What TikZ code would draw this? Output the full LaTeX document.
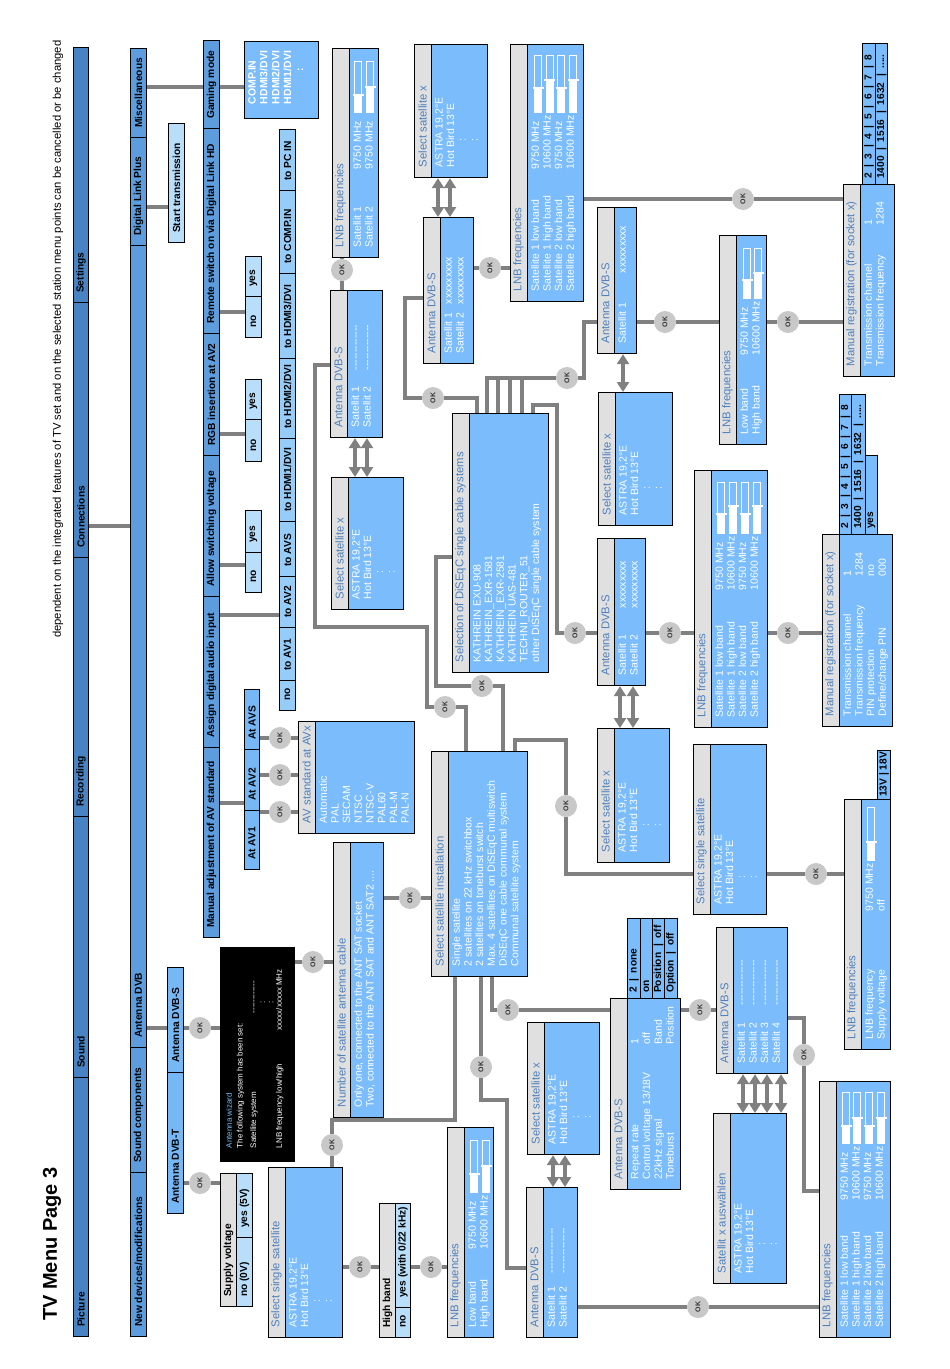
\documentclass[tikz,border=0pt]{standalone}
\usepackage{fontspec}
\setmainfont{Liberation Sans}
\usetikzlibrary{arrows.meta}

\definecolor{colDark}{RGB}{72,131,196}
\definecolor{colMid}{RGB}{93,157,222}
\definecolor{colLight}{RGB}{118,184,246}
\definecolor{colTo}{RGB}{150,204,248}
\definecolor{colPale}{RGB}{184,222,250}
\definecolor{colScr}{RGB}{122,188,252}
\definecolor{colStrip}{RGB}{224,224,224}
\definecolor{colHead}{RGB}{76,128,190}
\definecolor{colLink}{RGB}{128,128,128}
\definecolor{colOK}{RGB}{200,200,200}

% menu cell: [pad]{name}{x1}{y1}{x2}{y2}{style}{label}
\newcommand{\mcell}[8][10]{%
  \node[#7, minimum width={(#5-#3)*1pt}, minimum height={(#6-#4)*1pt},
        anchor=north west] (#2) at (#3,#4) {};
  \node[celltxt, anchor=west] (#2-txt) at ([yshift=#1pt]#2.south) {#8};}
% screen box: {name}{x1}{y1}{x2}{y2}{title}{body}
\newcommand{\scrbox}[7]{%
  \node[scr, minimum width={(#4-#2)*1pt}, minimum height={(#5-#3)*1pt},
        anchor=north west] (#1) at (#2,#3) {};
  \node[scrstrip, minimum width=17pt, minimum height={(#5-#3)*1pt},
        anchor=north west] (#1-strip) at (#2,#3) {};
  \node[headtxt, anchor=west] (#1-head) at ([xshift=8.5pt,yshift=11pt]#1.south west) {#6};
  \node[bodytxt, anchor=north west] (#1-body) at ([xshift=21pt,yshift=11pt]#1.south west) {#7};}
% level slider: {x}{ytop}{ybottom}{ylevel}
\newcommand{\lnbslider}[4]{%
  \draw[white, line width=0.7pt] ({#1-3.5},#2) rectangle ({#1+3.5},#3);
  \fill[white] ({#1-3.5},#4) rectangle ({#1+3.5},#3);
  \draw[white, line width=1.2pt] ({#1-5.5},#4) -- ({#1+5.5},#4);}
\newcommand{\kvline}[3]{\makebox[#1pt][l]{#2}#3}
\newcommand{\barsep}{\hspace{0.55em}|\hspace{0.55em}}
\newcommand{\dashrow}{-{}-{}-{}-{}-{}-{}-{}-{}-{}-{}-{}-{}-}

\begin{document}
\begin{tikzpicture}[
    x=1pt, y=-1pt,
    link/.style={draw=colLink, line width=4pt},
    dbl/.style={draw=colLink, line width=4pt,
                {Triangle[width=12pt,length=10pt]}-{Triangle[width=12pt,length=10pt]}},
    ok/.style={circle, fill=colOK, minimum size=22pt, inner sep=0pt, rotate=90,
               text=black!80, font=\fontsize{7}{7}\selectfont\bfseries},
    mbar1/.style={draw=black, line width=1pt, fill=colDark, inner sep=0pt},
    mbar2/.style={draw=black, line width=1pt, fill=colMid, inner sep=0pt},
    optlight/.style={draw=black, line width=1pt, fill=colLight, inner sep=0pt},
    optto/.style={draw=black, line width=1pt, fill=colTo, inner sep=0pt},
    optpale/.style={draw=black, line width=1pt, fill=colPale, inner sep=0pt},
    opthead/.style={draw=black, line width=1pt, fill=colStrip, inner sep=0pt},
    optscr/.style={draw=black, line width=1pt, fill=colScr, inner sep=0pt},
    celltxt/.style={rotate=90, inner sep=0pt, font=\fontsize{10.2}{12}\selectfont\bfseries},
    scr/.style={draw=black, line width=1.2pt, fill=colScr, inner sep=0pt},
    scrstrip/.style={draw=black, line width=1.2pt, fill=colStrip, inner sep=0pt},
    headtxt/.style={rotate=90, inner sep=0pt, text=colHead, font=\fontsize{11.3}{12}\selectfont},
    bodytxt/.style={rotate=90, inner sep=0pt, align=left, text=white,
                    font=\fontsize{10.5}{11.7}\selectfont},
    wizbox/.style={fill=black, inner sep=0pt},
    wiztxt/.style={rotate=90, inner sep=0pt, align=left, text=white,
                   font=\fontsize{8}{8.6}\selectfont},
    pagetitle/.style={rotate=90, inner sep=0pt, font=\fontsize{20}{24}\selectfont\bfseries},
    note/.style={rotate=90, inner sep=0pt, font=\fontsize{11.25}{13}\selectfont},
  ]
  \path[fill=white] (0,0) rectangle (950,1369);
  \useasboundingbox (0,0) rectangle (950,1369);

  % Heading
  \node[pagetitle, anchor=west] (title) at (52,1321) {TV Menu Page 3};
  \node[note, anchor=west] (remark) at (58,638)
    {dependent on the integrated features of TV set and on the selected station menu points can be cancelled or be changed};

  % Main menu bar
  \mcell{picture}{73}{1077}{88}{1336}{mbar1}{Picture}
  \mcell{sound}{73}{816}{88}{1077}{mbar1}{Sound}
  \mcell{recording}{73}{557}{88}{816}{mbar1}{Recording}
  \mcell{connections}{73}{302}{88}{557}{mbar1}{Connections}
  \mcell{settings}{73}{47}{88}{302}{mbar1}{Settings}

  % Settings bar
  \mcell{newdev}{130}{1172}{146}{1336}{mbar2}{New devices/modifications}
  \mcell{soundcomp}{130}{1047}{146}{1172}{mbar2}{Sound components}
  \mcell{antdvb}{130}{245}{146}{1047}{mbar2}{Antenna DVB}
  \mcell{dlplus}{130}{137}{146}{245}{mbar2}{Digital Link Plus}
  \mcell{misc}{130}{48}{146}{137}{mbar2}{Miscellaneous}

  % Connections bar
  \mcell{gaming}{203}{40}{219}{128}{mbar2}{Gaming mode}
  \mcell{remote}{203}{128}{219}{333}{mbar2}{Remote switch on via Digital Link HD}
  \mcell{rgb}{203}{333}{219}{455}{mbar2}{RGB insertion at AV2}
  \mcell{allowsw}{203}{455}{219}{596}{mbar2}{Allow switching voltage}
  \mcell{assign}{203}{596}{219}{747}{mbar2}{Assign digital audio input}
  \mcell{manadj}{203}{747}{219}{937}{mbar2}{Manual adjustment of AV standard}

  % Option cells
  \mcell{starttx}{168}{123}{184}{242}{optpale}{Start transmission}
  \mcell{dvbs}{167}{967}{183}{1072}{optlight}{Antenna DVB-S}
  \mcell{dvbt}{167}{1072}{183}{1213}{optlight}{Antenna DVB-T}
  \mcell{rsno}{245}{296}{261}{337}{optpale}{no}
  \mcell{rsyes}{245}{256}{261}{296}{optpale}{yes}
  \mcell{rgbno}{245}{419}{261}{461}{optpale}{no}
  \mcell{rgbyes}{245}{379}{261}{419}{optpale}{yes}
  \mcell{swno}{245}{552}{261}{592}{optpale}{no}
  \mcell{swyes}{245}{510}{261}{552}{optpale}{yes}
  \mcell{tono}{279}{680}{295}{710}{optto}{no}
  \mcell{toav1}{279}{627}{295}{680}{optto}{to AV1}
  \mcell{toav2}{279}{576}{295}{627}{optto}{to AV2}
  \mcell{toavs}{279}{521}{295}{576}{optto}{to AVS}
  \mcell{tohdmi1}{279}{438}{295}{521}{optto}{to HDMI1/DVI}
  \mcell{tohdmi2}{279}{358}{295}{438}{optto}{to HDMI2/DVI}
  \mcell{tohdmi3}{279}{273}{295}{358}{optto}{to HDMI3/DVI}
  \mcell{tocomp}{279}{190}{295}{273}{optto}{to COMP.IN}
  \mcell{topc}{279}{129}{295}{190}{optto}{to PC IN}
  \mcell{atavs}{244}{689}{259}{749}{optlight}{At AVS}
  \mcell{atav2}{244}{749}{259}{810}{optlight}{At AV2}
  \mcell{atav1}{244}{810}{259}{869}{optlight}{At AV1}
  \mcell{supply}{220}{1173}{236}{1306}{opthead}{Supply voltage}
  \mcell{supno}{236}{1237}{252}{1306}{optpale}{no (0V)}
  \mcell{supyes}{236}{1173}{252}{1237}{optpale}{yes (5V)}
  \mcell{hband}{379}{1203}{395}{1337}{opthead}{High band}
  \mcell{hbno}{395}{1307}{410}{1337}{optpale}{no}
  \mcell{hbyes}{395}{1203}{410}{1307}{optpale}{yes (with 0/22 kHz)}
  \mcell[6]{rptA}{627}{918}{640}{998}{optscr}{2\barsep none}
  \mcell[6]{rptB}{640}{918}{652}{998}{optscr}{on}
  \mcell[6]{rptC}{652}{918}{664}{998}{optscr}{Position\barsep off}
  \mcell[6]{rptD}{664}{918}{677}{998}{optscr}{Option\barsep off}
  \mcell[6]{mraA}{862}{43}{875}{184}{optscr}{2\barsep 3\barsep 4\barsep 5\barsep 6\barsep 7\barsep 8}
  \mcell[6]{mraB}{875}{43}{887}{184}{optscr}{1400\barsep 1516\barsep 1632\barsep .....}
  \mcell[6]{mrbA}{839}{394}{851}{534}{optscr}{2\barsep 3\barsep 4\barsep 5\barsep 6\barsep 7\barsep 8}
  \mcell[6]{mrbB}{851}{394}{865}{534}{optscr}{1400\barsep 1516\barsep 1632\barsep .....}
  \mcell[6]{mrbC}{865}{455}{877}{534}{optscr}{yes}
  \mcell[3]{lnbEv}{877}{750}{890}{799}{optscr}{13V | 18V}

  % Gaming mode list
  \node[scr, minimum width=74pt, minimum height=77pt, anchor=north west] (comp) at (244,41) {};
  \node[bodytxt, font=\fontsize{10.5}{11.9}\selectfont\bfseries, anchor=north west] (comp-body)
    at ([xshift=4pt,yshift=15pt]comp.south west)
    {COMP.IN\\HDMI3/DVI\\HDMI2/DVI\\HDMI1/DVI\\\hspace*{33pt}:};

  % Antenna wizard
  \node[wizbox, minimum width=75pt, minimum height=215pt, anchor=north west] (wiz) at (220,947) {};
  \node[wiztxt, anchor=north west] (wiz-body) at ([xshift=6pt,yshift=14pt]wiz.south west)
    {{\color{colScr}Antenna wizard}\\[2pt]
     The following system has been set:\\[5pt]
     \makebox[135pt][l]{Satellite system}-{}-{}-{}-{}-{}-{}-{}-{}-{}-{}-{}-\\
     \hspace*{145pt}:\\
     \hspace*{145pt}:\\
     \makebox[118pt][l]{LNB frequency low/high}xxxxx/xxxxx MHz};

  % Screens
  \scrbox{lnbA}{332}{48}{378}{257}{LNB frequencies}
    {\kvline{78}{Satellit 1}{9750 MHz}\\\kvline{78}{Satellit 2}{9750 MHz}}
  \scrbox{antS1}{330}{290}{382}{437}{Antenna DVB-S}
    {\kvline{57}{Satellit 1}{\dashrow}\\\kvline{57}{Satellit 2}{\dashrow}}
  \scrbox{selA}{331}{477}{403}{609}{Select satellite x}
    {ASTRA 19,2°E\\Hot Bird 13°E\\\hspace*{26pt}:\\\hspace*{26pt}:}
  \scrbox{selB}{414}{44}{487}{177}{Select satellite x}
    {ASTRA 19,2°E\\Hot Bird 13°E\\\hspace*{26pt}:\\\hspace*{26pt}:}
  \scrbox{antS2}{423}{217}{473}{363}{Antenna DVB-S}
    {\kvline{49}{Satellit 1}{xxxxxxxxx}\\\kvline{49}{Satellit 2}{xxxxxxxxx}}
  \scrbox{lnbB}{510}{44}{583}{301}{LNB frequencies}
    {\kvline{122}{Satellite 1 low band}{9750 MHz}\\\kvline{122}{Satellite 1 high band}{10600 MHz}\\
     \kvline{122}{Satellite 2 low band}{9750 MHz}\\\kvline{122}{Satellite 2 high band}{10600 MHz}}
  \scrbox{dsq}{452}{413}{548}{672}{Selection of DiSEqC single cable systems}
    {KATHREIN EXU-908\\KATHREIN\_EXR-1581\\KATHREIN\_EXR-2581\\KATHREIN UAS-481\\
     TECHNI\_ROUTER\_51\\other DiSEqC single cable system}
  \scrbox{antS3}{597}{207}{636}{353}{Antenna DVB-S}
    {\kvline{70}{Satellit 1}{xxxxxxxxx}}
  \scrbox{selC}{598}{392}{672}{525}{Select satellite x}
    {ASTRA 19,2°E\\Hot Bird 13°E\\\hspace*{26pt}:\\\hspace*{26pt}:}
  \scrbox{lnbC}{719}{235}{766}{444}{LNB frequencies}
    {\kvline{79}{Low band}{9750 MHz}\\\kvline{79}{High band}{10600 MHz}}
  \scrbox{mrA}{843}{184}{894}{376}{Manual registration (for socket x)}
    {\kvline{141}{Transmission channel}{1}\\\kvline{141}{Transmission frequency}{1284}}
  \scrbox{antS4}{597}{538}{645}{685}{Antenna DVB-S}
    {\kvline{67}{Satellit 1}{xxxxxxxxx}\\\kvline{67}{Satellit 2}{xxxxxxxxx}}
  \scrbox{selD}{597}{728}{669}{862}{Select satellite x}
    {ASTRA 19,2°E\\Hot Bird 13°E\\\hspace*{26pt}:\\\hspace*{26pt}:}
  \scrbox{lnbD}{694}{470}{767}{727}{LNB frequencies}
    {\kvline{127}{Satellite 1 low band}{9750 MHz}\\\kvline{127}{Satellite 1 high band}{10600 MHz}\\
     \kvline{127}{Satellite 2 low band}{9750 MHz}\\\kvline{127}{Satellite 2 high band}{10600 MHz}}
  \scrbox{mrB}{822}{534}{892}{726}{Manual registration (for socket x)}
    {\kvline{140}{Transmission channel}{1}\\\kvline{140}{Transmission frequency}{1284}\\
     \kvline{140}{PIN protection}{no}\\\kvline{140}{Define/change PIN}{000}}
  \scrbox{ssR}{693}{744}{766}{914}{Select single satellite}
    {ASTRA 19,2°E\\Hot Bird 13°E\\\hspace*{26pt}:\\\hspace*{26pt}:}
  \scrbox{lnbE}{844}{799}{890}{1049}{LNB frequencies}
    {\kvline{128}{LNB frequency}{9750 MHz}\\\kvline{128}{Supply voltage}{off}}
  \scrbox{nsc}{333}{842}{383}{1117}{Number of satellite antenna cable}
    {Only one, connected to the ANT SAT socket\\Two, connected to the ANT SAT and ANT SAT2 ....}
  \scrbox{ssi}{431}{751}{527}{976}{Select satellite installation}
    {Single satellite\\2 satellites on 22 kHz switchbox\\2 satellites on toneburst switch\\
     Max. 4 satellites on DiSEqC multiswitch\\DiSEqC one cable communal system\\Communal satellite system}
  \scrbox{ssL}{268}{1167}{342}{1337}{Select single satellite}
    {ASTRA 19,2°E\\Hot Bird 13°E\\\hspace*{25pt}:\\\hspace*{25pt}:}
  \scrbox{lnbF}{447}{1127}{493}{1337}{LNB frequencies}
    {\kvline{78}{Low band}{9750 MHz}\\\kvline{78}{High band}{10600 MHz}}
  \scrbox{selE}{527}{1022}{599}{1154}{Select satellite x}
    {ASTRA 19,2°E\\Hot Bird 13°E\\\hspace*{26pt}:\\\hspace*{26pt}:}
  \scrbox{antS5}{526}{1187}{577}{1337}{Antenna DVB-S}
    {\kvline{54}{Satellit 1}{\dashrow}\\\kvline{54}{Satellit 2}{\dashrow}}
  \scrbox{rpt}{610}{998}{680}{1189}{Antenna DVB-S}
    {\kvline{135}{Repeat rate}{1}\\\kvline{135}{Control voltage 13/18V}{off}\\
     \kvline{135}{22kHz signal}{Band}\\\kvline{135}{Toneburst}{Position}}
  \scrbox{antS6}{716}{927}{787}{1073}{Antenna DVB-S}
    {\kvline{58}{Satellit 1}{\dashrow}\\\kvline{58}{Satellit 2}{\dashrow}\\
     \kvline{58}{Satellit 3}{\dashrow}\\\kvline{58}{Satellit 4}{\dashrow}}
  \scrbox{satxA}{713}{1113}{786}{1283}{Satellit x auswählen}
    {ASTRA 19,2°E\\Hot Bird 13°E\\\hspace*{28pt}:\\\hspace*{28pt}:}
  \scrbox{lnbG}{819}{1081}{890}{1337}{LNB frequencies}
    {\kvline{127}{Satellite 1 low band}{9750 MHz}\\\kvline{127}{Satellite 1 high band}{10600 MHz}\\
     \kvline{127}{Satellite 2 low band}{9750 MHz}\\\kvline{127}{Satellite 2 high band}{10600 MHz}}
  \scrbox{avstd}{298}{721}{414}{833}{AV standard at AVx}
    {Automatic\\PAL\\SECAM\\NTSC\\NTSC-V\\PAL60\\PAL-M\\PAL-N}

  % Level sliders
  \lnbslider{358}{61}{112}{95}
  \lnbslider{370}{61}{112}{87}
  \lnbslider{538}{55}{112}{88}
  \lnbslider{549.5}{55}{112}{80}
  \lnbslider{561}{55}{112}{88}
  \lnbslider{573}{55}{112}{80}
  \lnbslider{747}{248}{298}{280}
  \lnbslider{758}{248}{298}{273}
  \lnbslider{721}{482}{533}{514}
  \lnbslider{733}{482}{533}{506}
  \lnbslider{745}{482}{533}{514}
  \lnbslider{757}{482}{533}{506}
  \lnbslider{871}{807}{860}{842}
  \lnbslider{474}{1140}{1192}{1174}
  \lnbslider{486}{1140}{1192}{1166}
  \lnbslider{846}{1092}{1143}{1126}
  \lnbslider{857}{1092}{1143}{1118}
  \lnbslider{869}{1092}{1143}{1126}
  \lnbslider{881}{1092}{1143}{1118}

  % OK keys
  \node[ok] (ok1) at (200,1183) {OK};
  \node[ok] (ok2) at (200,1028) {OK};
  \node[ok] (ok3) at (313,962) {OK};
  \node[ok] (ok4) at (410,898) {OK};
  \node[ok] (ok5) at (332,1145) {OK};
  \node[ok] (ok6) at (360,1267) {OK};
  \node[ok] (ok7) at (431,1267) {OK};
  \node[ok] (ok8) at (481,1067) {OK};
  \node[ok] (ok9) at (508,1010) {OK};
  \node[ok] (ok10) at (700,1010) {OK};
  \node[ok] (ok11) at (804,1055) {OK};
  \node[ok] (ok12) at (698,1307) {OK};
  \node[ok] (ok13) at (566,806) {OK};
  \node[ok] (ok14) at (816,874) {OK};
  \node[ok] (ok15) at (445,707) {OK};
  \node[ok] (ok16) at (482,686) {OK};
  \node[ok] (ok17) at (575,633) {OK};
  \node[ok] (ok18) at (670,633) {OK};
  \node[ok] (ok19) at (788,633) {OK};
  \node[ok] (ok20) at (567,378) {OK};
  \node[ok] (ok21) at (665,322) {OK};
  \node[ok] (ok22) at (788,322) {OK};
  \node[ok] (ok23) at (433,398) {OK};
  \node[ok] (ok24) at (490,268) {OK};
  \node[ok] (ok25) at (743,199) {OK};
  \node[ok] (ok26) at (342,270) {OK};
  \node[ok] (okA) at (280,738) {OK};
  \node[ok] (okB) at (280,775) {OK};
  \node[ok] (okC) at (280,812) {OK};

  % Menu links
  \draw[link] (connections.east |- 0,526) -- (antdvb.west |- 0,526);
  \draw[link] (misc.east |- 0,87) -- (gaming.west |- 0,87);
  \draw[link] (gaming.east |- 0,87) -- (comp.west |- 0,87);
  \draw[link] (dlplus.east |- 0,207) -- (starttx.west |- 0,207);
  \draw[link] (antdvb.east |- 0,1028) -- (dvbs.west |- 0,1028);
  \draw[link] (remote.east |- 0,312) -- (rsno.west |- 0,312);
  \draw[link] (rgb.east |- 0,434) -- (rgbno.west |- 0,434);
  \draw[link] (allowsw.east |- 0,565) -- (swno.west |- 0,565);
  \draw[link] (assign.east |- 0,615) -- (toav2.west |- 0,615);
  \draw[link] (manadj.east |- 0,803) -- (atav2.west |- 0,803);
  \foreach \src/\okn in {atavs/okA,atav2/okB,atav1/okC}
    \draw[link] (\src.east |- \okn) -- (\okn) -- (\okn -| avstd.west);

  % Antenna wizard path
  \draw[link] (dvbt.east |- ok1) -- (ok1) -- (ok1 -| supply.west);
  \draw[link] (dvbs.east |- ok2) -- (ok2) -- (ok2 -| wiz.west);
  \draw[link] (wiz.east |- ok3) -- (ok3) -- (ok3 -| nsc.west);
  \draw[link] (nsc.east |- ok4) -- (ok4) -- (ok4 -| ssi.west);

  % Single satellite
  \draw[link] (ssi.south -| 455,0) -- (455,1120) -- (ok5 |- 0,1120) -- (ok5) -- (ok5 |- ssL.north);
  \draw[link] (ssL.east |- ok6) -- (ok6) -- (ok6 -| hband.west);
  \draw[link] (hbyes.east |- ok7) -- (ok7) -- (ok7 -| lnbF.west);

  % 22 kHz switchbox
  \draw[link] (ssi.south -| ok8) -- (ok8) -- (ok8 |- 0,1100) -- (507,1100) -- (507,1268)
    -- (antS5.west |- 0,1268);
  \draw[link] (antS5.east |- ok12) -- (ok12) -- (ok12 -| lnbG.west);

  % toneburst / multiswitch
  \draw[link] (ssi.south -| 492,0) -- (492,1010) -- (ok9) -- (ok9 -| rpt.west);
  \draw[link] (rpt.east |- ok10) -- (ok10) -- (ok10 -| antS6.west);
  \draw[link] (antS6.east |- 0,1018) -- (ok11 |- 0,1018) -- (ok11) -- (ok11 |- 0,1191)
    -- (lnbG.west |- 0,1191);

  % communal system
  \draw[link] (ssi.north -| 515,0) -- (515,740) -- (ok13 |- 0,740) -- (ok13) -- (ok13 |- 0,874)
    -- (ssR.west |- 0,874);
  \draw[link] (ssR.east |- ok14) -- (ok14) -- (ok14 -| lnbE.west);

  % one cable system
  \draw[link] (ssi.north -| 466,0) -- (466,707) -- (ok15) -- (427,707) -- (427,627) -- (315,627)
    -- (315,365) -- (antS1.west |- 0,365);
  \draw[link] (lnbA.south -| ok26) -- (ok26) -- (ok26 |- antS1.north);
  \draw[link] (ssi.north -| 503,0) -- (503,686) -- (ok16) -- (436,686) -- (436,557)
    -- (dsq.west |- 0,557);
  \draw[link] (dsq.north -| 533,0) -- (533,405) -- (557,405) -- (557,633) -- (ok17)
    -- (ok17 -| antS4.west);
  \draw[link] (antS4.east |- ok18) -- (ok18) -- (ok18 -| lnbD.west);
  \draw[link] (lnbD.east |- ok19) -- (ok19) -- (ok19 -| mrB.west);
  \foreach \lx in {498,510,522}
    \draw[link] (dsq.north -| \lx,0) -- (\lx,378);
  \draw[link] (dsq.north -| 487,0) -- (487,378) -- (ok20) -- (584,378) -- (584,322)
    -- (antS3.west |- 0,322);
  \draw[link] (antS3.east |- ok21) -- (ok21) -- (ok21 -| lnbC.west);
  \draw[link] (lnbC.east |- ok22) -- (ok22) -- (ok22 -| mrA.west);
  \draw[link] (antS2.west |- 0,298) -- (405,298) -- (405,398) -- (ok23) -- (477,398)
    -- (dsq.north -| 477,0);
  \draw[link] (antS2.east |- ok24) -- (ok24) -- (ok24 -| lnbB.west);
  \draw[link] (lnbB.east |- ok25) -- (ok25) -- (ok25 -| mrA.west);

  % Satellite choice arrows
  \foreach \ax in {355,367}
    \draw[dbl] (antS1.south -| \ax,0) -- (selA.north -| \ax,0);
  \foreach \ax in {438,450}
    \draw[dbl] (selB.south -| \ax,0) -- (antS2.north -| \ax,0);
  \draw[dbl] (antS3.south -| 623,0) -- (selC.north -| 623,0);
  \foreach \ax in {620,633}
    \draw[dbl] (antS4.south -| \ax,0) -- (selD.north -| \ax,0);
  \foreach \ax in {553,565}
    \draw[dbl] (selE.south -| \ax,0) -- (antS5.north -| \ax,0);
  \foreach \ax in {743,755,767,781}
    \draw[dbl] (antS6.south -| \ax,0) -- (satxA.north -| \ax,0);
\end{tikzpicture}
\end{document}
